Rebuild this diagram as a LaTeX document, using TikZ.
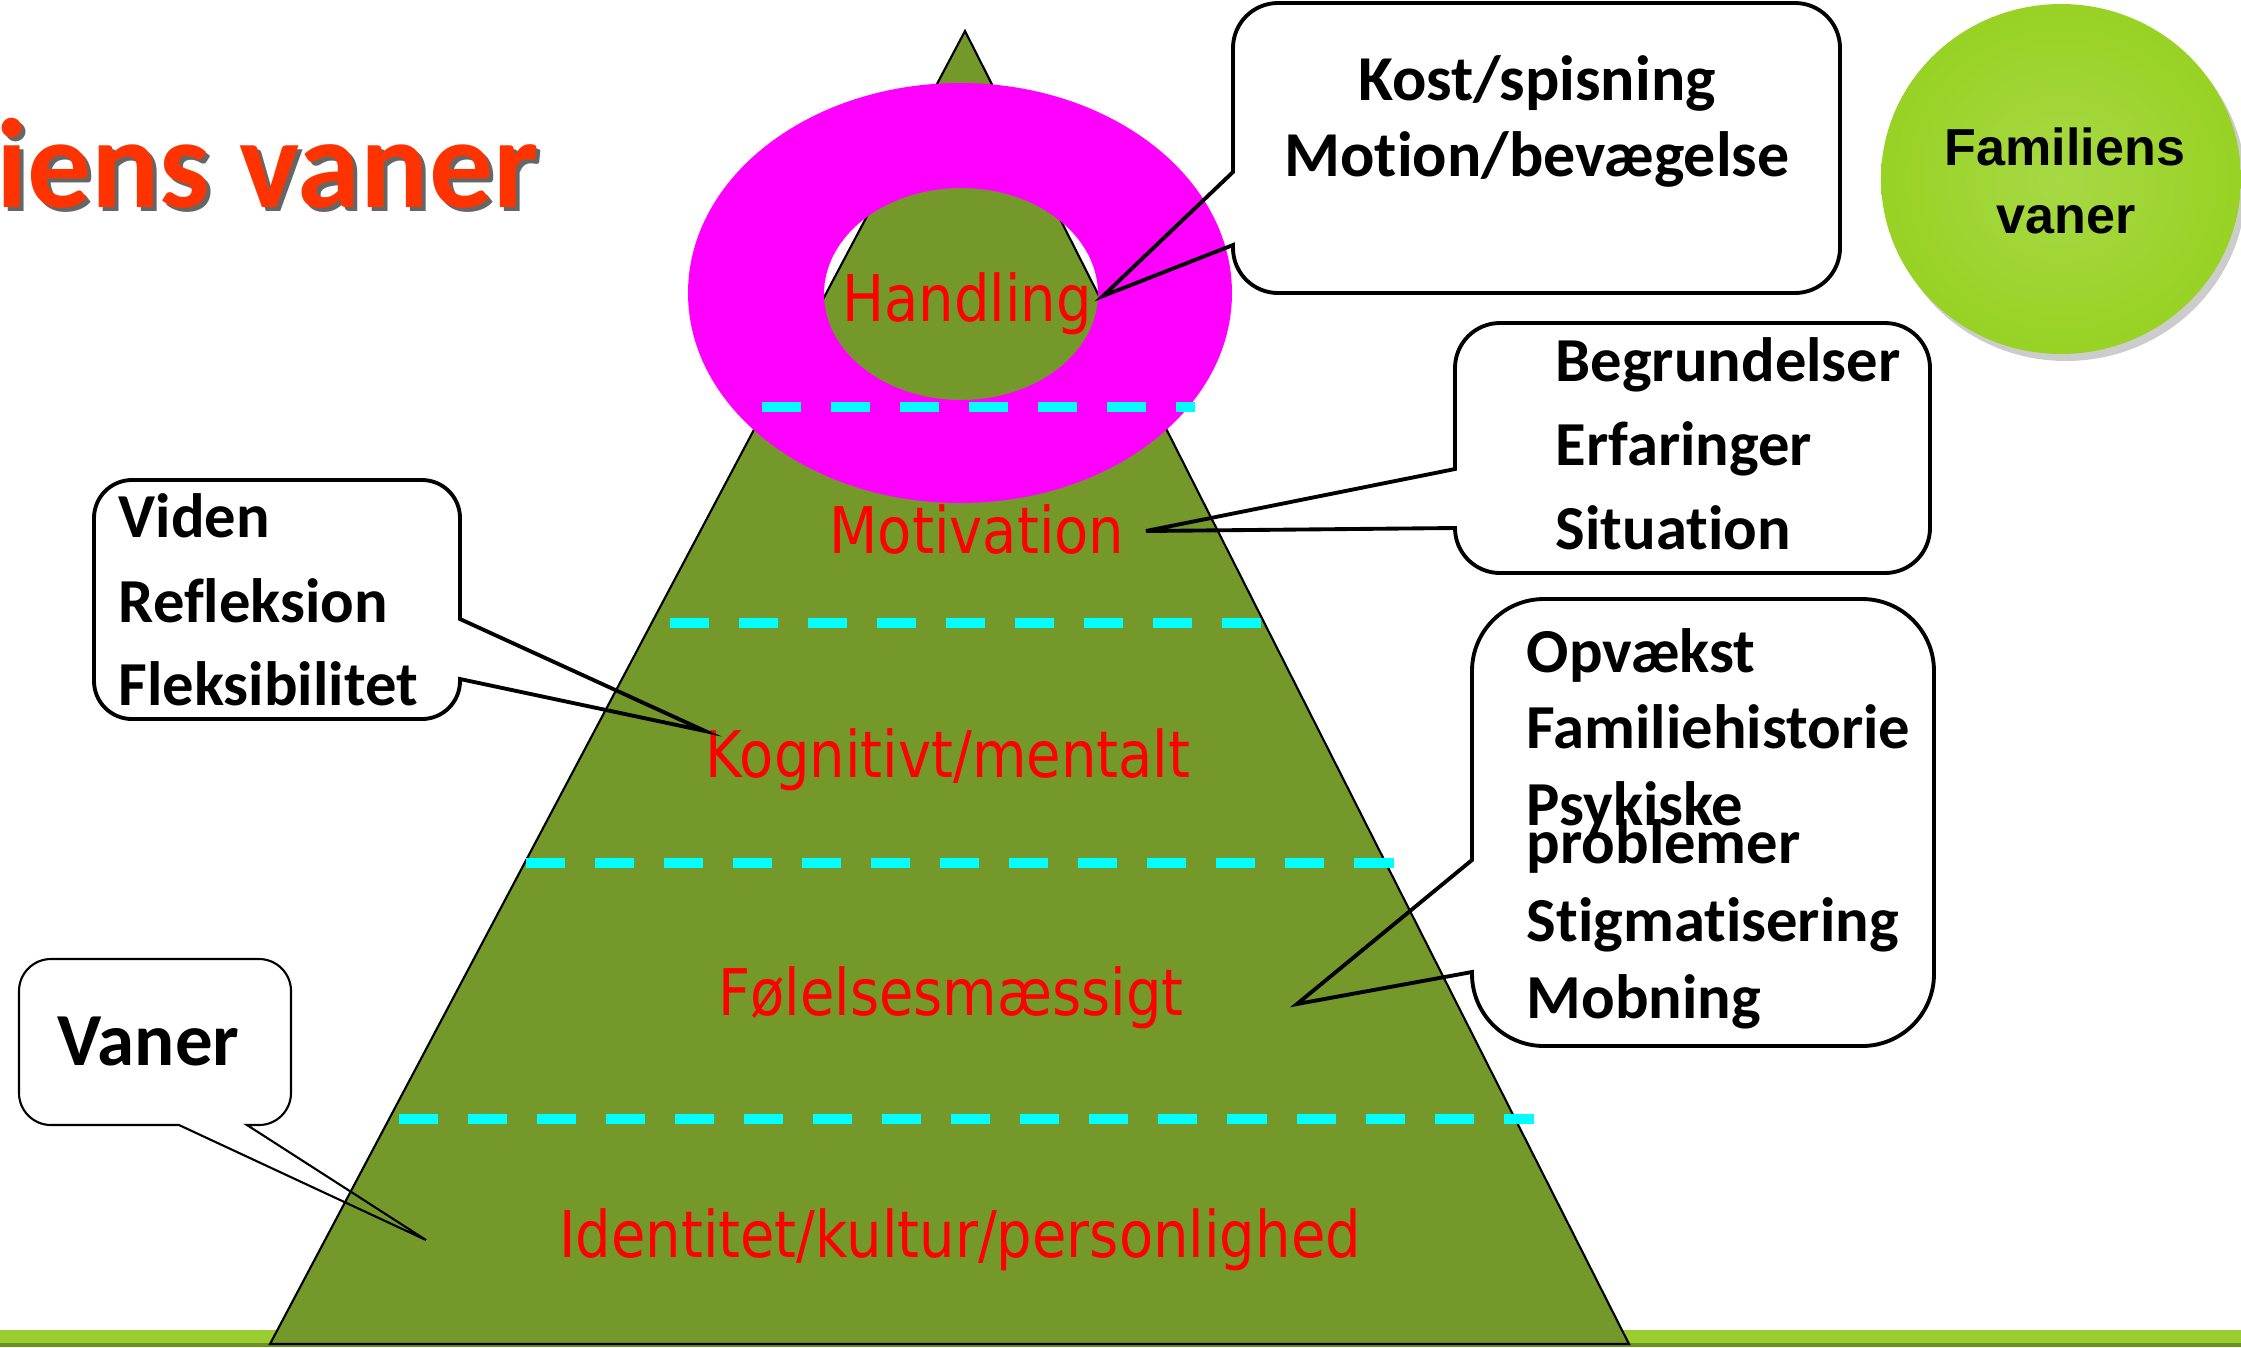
\documentclass[tikz,border=0pt]{standalone}
\usepackage{fontspec}
\setmainfont[Ligatures=NoCommon,Contextuals=NoAlternate]{Carlito}
\newfontfamily\labelfont[FakeStretch=0.87]{DejaVu Sans}
\newfontfamily\arialfont{Liberation Sans}
\usepackage{xcolor}
\usetikzlibrary{calc}
\definecolor{pyrgreen}{RGB}{117,152,42}
\definecolor{ringpink}{RGB}{255,0,255}
\definecolor{titlered}{RGB}{255,51,0}
\definecolor{limegreen}{RGB}{154,205,50}
\definecolor{ballgreen}{RGB}{152,210,36}
\definecolor{dashcyan}{RGB}{0,255,255}
\tikzset{
  levellabel/.style={text=red,font=\labelfont\fontsize{18.3}{20}\selectfont,anchor=base,inner sep=0pt},
  boxtext/.style={font=\bfseries\fontsize{17.8}{20}\selectfont,anchor=base west,inner sep=0pt},
  callout/.style={draw=black,line width=1.1pt,line join=miter},
  dashline/.style={dashcyan,line width=3.1pt,dash pattern=on 0.39cm off 0.30cm}
}

\begin{document}
\begin{tikzpicture}[x=0.01cm,y=-0.01cm]
\useasboundingbox (0,0) rectangle (2241,1347);
% bottom strip
\fill[limegreen] (0,1330) rectangle (2241,1347);
\fill[limegreen!70!black] (0,1343) rectangle (2241,1347);
% pyramid and ring
\draw[fill=pyrgreen,line width=0.6pt] (965,31) -- (1629,1344) -- (270,1344) -- cycle;
\fill[ringpink,even odd rule] (960,293) ellipse [x radius=272,y radius=210]
     (961,294) ellipse [x radius=137,y radius=106];
% level borders
\draw[dashline] (762,407) -- (1195,407);
\draw[dashline] (670,623) -- (1265,623);
\draw[dashline] (526,863) -- (1398,863);
\draw[dashline] (399,1119) -- (1534,1119);
% levels
\node[levellabel] (handling) at (967,321) {Handling};
\node[levellabel] (motivation) at (977,553) {Motivation};
\node[levellabel] (kognitiv) at (948,777) {Kognitivt/mentalt};
\node[levellabel] (folelse) at (951,1015) {Følelsesmæssigt};
\node[levellabel] (identitet) at (960,1257) {Identitet/kultur/personlighed};
% title
\node[font=\bfseries\fontsize{36.2}{40}\selectfont,text=black,opacity=0.6,anchor=base east,inner sep=0pt] (titleshadow) at (543,211) {iens vaner};
\node[font=\bfseries\fontsize{36.2}{40}\selectfont,text=titlered,anchor=base east,inner sep=0pt] (title) at (539,207) {iens vaner};
% circle
\fill[black,opacity=0.2] (2066,186) ellipse [x radius=180,y radius=175];
\shade[inner color=ballgreen!85!white,outer color=ballgreen] (2061,179) ellipse [x radius=180,y radius=175];
\node[font=\arialfont\bfseries\fontsize{14.8}{17}\selectfont,anchor=base,inner sep=0pt] (fam) at (2065,165) {Familiens};
\node[font=\arialfont\bfseries\fontsize{14.8}{17}\selectfont,anchor=base,inner sep=0pt] (famvaner) at (2066,233) {vaner};
% callout tips
\coordinate (tipH) at (1103,296);
\coordinate (tipM) at (1146,531);
\coordinate (tipK) at (705,731);
\coordinate (tipF) at (1297,1004);
\coordinate (tipV) at (426,1240);
% callouts
\draw[callout] (tipH) -- (1233,245) -- (1233,248) arc[start angle=180,end angle=90,radius=45]
     -- (1795,293) arc[start angle=90,end angle=0,radius=45]
     -- (1840,48) arc[start angle=0,end angle=-90,radius=45]
     -- (1278,3) arc[start angle=270,end angle=180,radius=45] -- (1233,172) -- cycle;
\draw[callout] (tipM) -- (1455,528) arc[start angle=180,end angle=90,radius=45]
     -- (1885,573) arc[start angle=90,end angle=0,radius=45]
     -- (1930,368) arc[start angle=0,end angle=-90,radius=45]
     -- (1500,323) arc[start angle=270,end angle=180,radius=45] -- (1455,469) -- cycle;
\draw[callout] (tipF) -- (1472,972) -- (1472,974) arc[start angle=180,end angle=90,radius=72]
     -- (1862,1046) arc[start angle=90,end angle=0,radius=72]
     -- (1934,671) arc[start angle=0,end angle=-90,radius=72]
     -- (1544,599) arc[start angle=270,end angle=180,radius=72] -- (1472,860) -- cycle;
\draw[callout] (tipK) -- (460,679) -- (460,681) arc[start angle=0,end angle=90,radius=38]
     -- (132,719) arc[start angle=90,end angle=180,radius=38]
     -- (94,518) arc[start angle=180,end angle=270,radius=38]
     -- (422,480) arc[start angle=270,end angle=360,radius=38] -- (460,619) -- cycle;
\draw[callout,line width=0.6pt] (tipV) -- (247,1125) -- (259,1125) arc[start angle=90,end angle=0,radius=32]
     -- (291,991) arc[start angle=0,end angle=-90,radius=32]
     -- (51,959) arc[start angle=270,end angle=180,radius=32]
     -- (19,1093) arc[start angle=180,end angle=90,radius=32] -- (179,1125) -- cycle;
% callout texts
\node[boxtext,anchor=base,font=\bfseries\fontsize{18.2}{20}\selectfont] (kost) at (1537,100) {Kost/spisning};
\node[boxtext,anchor=base,font=\bfseries\fontsize{18.2}{20}\selectfont] (motion) at (1537,176) {Motion/bevægelse};
\node[boxtext] (begrund) at (1555,381) {Begrundelser};
\node[boxtext] (erfaring) at (1555,465) {Erfaringer};
\node[boxtext] (situation) at (1555,549) {Situation};
\node[boxtext] (viden) at (118,537) {Viden};
\node[boxtext] (refleksion) at (118,622) {Refleksion};
\node[boxtext] (fleks) at (118,705) {Fleksibilitet};
\node[boxtext] (opvaekst) at (1526,672) {Opvækst};
\node[boxtext] (famhist) at (1526,748) {Familiehistorie};
\node[boxtext] (psyk) at (1526,825) {Psykiske};
\node[boxtext] (problem) at (1526,863) {problemer};
\node[boxtext] (stigma) at (1526,941) {Stigmatisering};
\node[boxtext] (mobning) at (1526,1018) {Mobning};
\node[boxtext,font=\bfseries\fontsize{21.3}{24}\selectfont] (vaner) at (57,1065) {Vaner};
\end{tikzpicture}
\end{document}
